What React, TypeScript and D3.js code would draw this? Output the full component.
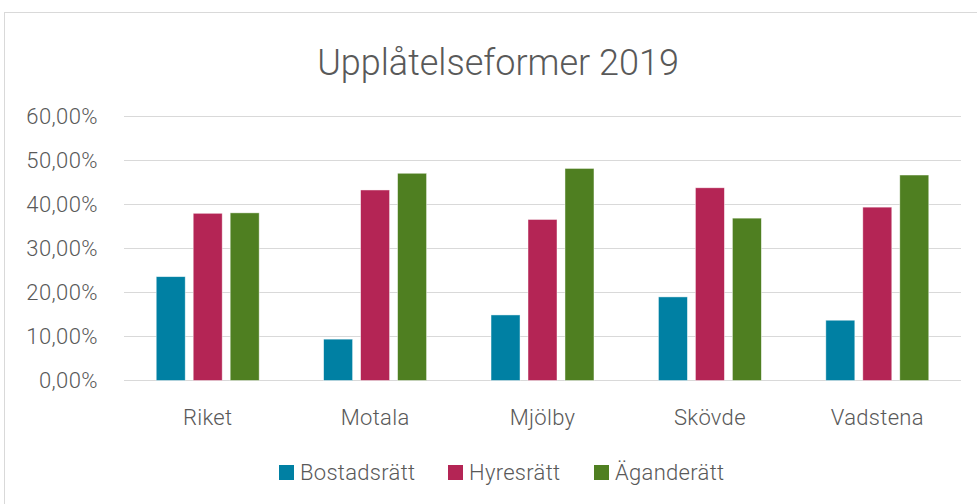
import { useEffect, useRef } from "react";
import * as d3 from "d3";

const categories = ["Riket", "Motala", "Mjölby", "Skövde", "Vadstena"];
const seriesNames = ["Bostadsrätt", "Hyresrätt", "Äganderätt"];
const bostadsratt = [23.6, 9.4, 14.9, 19.0, 13.7];
const hyresratt = [38.0, 43.3, 36.6, 43.8, 39.4];
const aganderatt = [38.1, 47.1, 48.2, 36.9, 46.7];
const yTicks = [0, 10, 20, 30, 40, 50, 60];
const colors = ["#0080A3", "#B42555", "#4F7F21"];

const W = 977;
const H = 504;

const App = () => {
    const svgRef = useRef<SVGSVGElement>(null);

    useEffect(() => {
        const svg = d3.select(svgRef.current);
        svg.selectAll("*").remove();

        const values = [bostadsratt, hyresratt, aganderatt];
        const plot = { left: 124, right: 961, top: 116.5, bottom: 380.5 };
        const font = "Roboto, 'Noto Sans', sans-serif";
        const textColor = "#595959";

        // chart frame
        svg.append("rect")
            .attr("x", 4.5).attr("y", 12.5)
            .attr("width", W + 10).attr("height", H + 10)
            .attr("fill", "#fff").attr("stroke", "#d9d9d9");

        const x0 = d3.scaleBand<string>()
            .domain(categories)
            .range([plot.left, plot.right])
            .paddingInner(0.385)
            .paddingOuter(0.1925);

        const x1 = d3.scaleBand<string>()
            .domain(seriesNames)
            .range([0, x0.bandwidth()])
            .paddingInner(0.216);

        const y = d3.scaleLinear().domain([0, 60]).range([plot.bottom, plot.top]);

        // gridlines
        svg.append("g")
            .selectAll("line")
            .data(yTicks)
            .enter()
            .append("line")
            .attr("x1", plot.left).attr("x2", plot.right)
            .attr("y1", (d) => y(d)).attr("y2", (d) => y(d))
            .attr("stroke", "#d9d9d9").attr("stroke-width", 1.2);

        // y labels
        svg.append("g")
            .selectAll("text")
            .data(yTicks)
            .enter()
            .append("text")
            .attr("x", 98)
            .attr("y", (d) => y(d))
            .attr("dy", "0.35em")
            .attr("text-anchor", "end")
            .style("font-family", font)
            .style("font-size", "22px")
            .style("font-weight", 300)
            .style("letter-spacing", "0.4px")
            .attr("fill", textColor)
            .text((d) => d3.format(".2f")(d).replace(".", ",") + "%");

        // bars
        const groups = svg.append("g")
            .selectAll("g")
            .data(categories)
            .enter()
            .append("g")
            .attr("transform", (d) => `translate(${x0(d)},0)`);

        groups.selectAll("rect")
            .data((d, i) => seriesNames.map((s, j) => ({ s, j, v: values[j][i] })))
            .enter()
            .append("rect")
            .attr("x", (d) => x1(d.s)!)
            .attr("y", (d) => y(d.v))
            .attr("width", x1.bandwidth())
            .attr("height", (d) => y(0) - y(d.v))
            .attr("fill", (d) => colors[d.j])
            .attr("stroke", "#fff").attr("stroke-opacity", 0.6).attr("stroke-width", 0.75);

        // category labels
        svg.append("g")
            .selectAll("text")
            .data(categories)
            .enter()
            .append("text")
            .attr("x", (d) => x0(d)! + x0.bandwidth() / 2)
            .attr("y", 425)
            .attr("text-anchor", "middle")
            .style("font-family", font)
            .style("font-size", "22px")
            .style("font-weight", 300)
            .style("letter-spacing", "0.3px")
            .attr("fill", textColor)
            .text((d) => d);

        // title
        svg.append("text")
            .attr("x", 498).attr("y", 75)
            .attr("text-anchor", "middle")
            .style("font-family", font)
            .style("font-size", "36px")
            .style("font-weight", 300)
            .attr("fill", textColor)
            .text("Upplåtelseformer 2019");

        // legend
        const legendX = [279, 448, 594];
        const legend = svg.append("g")
            .selectAll("g")
            .data(seriesNames)
            .enter()
            .append("g")
            .attr("transform", (d, i) => `translate(${legendX[i]},465)`);
        legend.append("rect")
            .attr("width", 15).attr("height", 15)
            .attr("fill", (d, i) => colors[i]);
        legend.append("text")
            .attr("x", 21).attr("y", 7.5).attr("dy", "0.36em")
            .style("font-family", font)
            .style("font-size", "22px")
            .style("font-weight", 300)
            .style("letter-spacing", "0.3px")
            .attr("fill", textColor)
            .text((d) => d);
    }, []);

    return (
        <svg
            ref={svgRef}
            width={W}
            height={H}
            style={{ position: "absolute", left: 0, top: 0, display: "block" }}
        ></svg>
    );
};

export default App;
